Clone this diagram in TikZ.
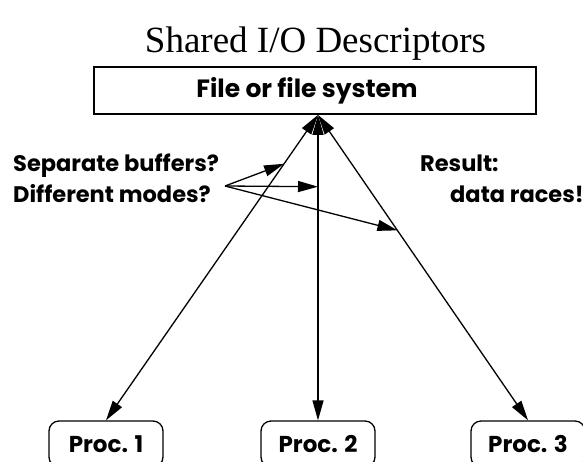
\documentclass[tikz,border=0pt]{standalone}
\usepackage{fontspec}
\setmainfont{Liberation Serif}
\setsansfont{Poppins}
\usepackage{tikz}
\usetikzlibrary{arrows.meta,positioning}
\newcommand{\labfont}{\sffamily\bfseries\fontsize{22.5}{26}\selectfont}

\begin{document}
\begin{tikzpicture}[x=1pt, y=-1pt,
  filebox/.style={draw, line width=1.8pt, minimum width=442pt, minimum height=47pt, inner sep=0pt, font=\sffamily\bfseries\fontsize{25}{28}\selectfont},
  procbox/.style={draw, line width=1.3pt, rounded corners=10pt, minimum width=114pt, minimum height=46pt, inner sep=0pt, font=\sffamily\bfseries\fontsize{23}{26}\selectfont},
  lab/.style={anchor=base west, inner sep=0pt, font=\labfont},
  link/.style={line width=1.3pt, {Triangle[length=20pt, width=11pt]}-{Triangle[length=20pt, width=11pt]}},
  ptr/.style={line width=1.3pt, -{Triangle[length=20pt, width=11pt]}}
]
\useasboundingbox (0,0) rectangle (583,461);
\clip (0,0) rectangle (583,461);

% title and file
\node[anchor=base, inner sep=0pt, font=\fontsize{37}{40}\selectfont] (title) at (315.5,52) {Shared I/O Descriptors};
\node[filebox] (file) at (315,90.5) {File or file system\kern16pt};
\coordinate (apex) at ([xshift=3pt]file.south);

% processes
\node[procbox] (p1) at (106,444) {Proc. 1};
\node[procbox] (p2) at (318,444) {Proc. 2};
\node[procbox] (p3) at (528,444) {Proc. 3};

\draw[link] (apex) -- (p1.north) coordinate[pos=0.16] (hit1);
\draw[link] (apex) -- (p2.north) coordinate[pos=0.235] (hit2);
\draw[link] (apex) -- (p3.north) coordinate[pos=0.378] (hit3);

% questions
\node[lab] (q1) at (13,171) {Separate buffers?};
\node[lab] (q2) at (13,202) {Different modes?};
\coordinate (from) at (225,186);
\draw[ptr] (from) -- (hit1);
\draw[ptr] (from) -- (hit2);
\draw[ptr] (from) -- (hit3);

\node[lab] (r1) at (420,171) {Result:};
\node[lab] (r2) at (450,202) {data races!};
\end{tikzpicture}
\end{document}
